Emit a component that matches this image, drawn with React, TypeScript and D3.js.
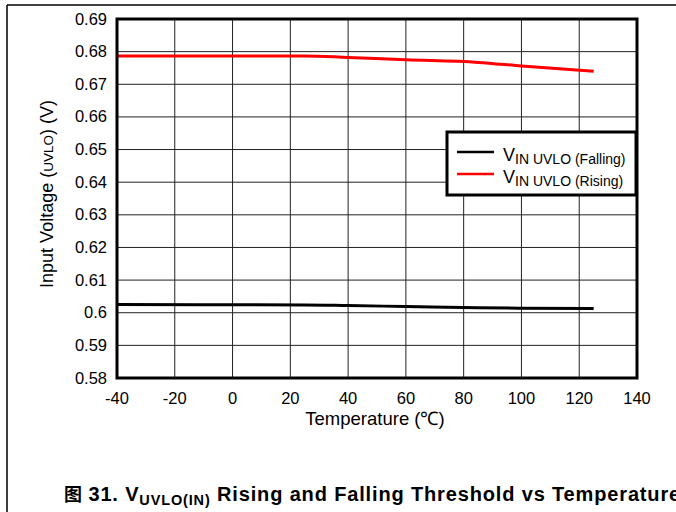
import React from "react";
import * as d3 from "d3";

const temps = [-40, 25, 40, 60, 85, 100, 125];
const falling = [0.6025, 0.6024, 0.6022, 0.6019, 0.6015, 0.6014, 0.6013];
const rising = [0.6787, 0.6787, 0.6782, 0.6775, 0.6767, 0.6756, 0.674];
const xTicks = [-40, -20, 0, 20, 40, 60, 80, 100, 120, 140];
const yTicks = [0.58, 0.59, 0.6, 0.61, 0.62, 0.63, 0.64, 0.65, 0.66, 0.67, 0.68, 0.69];
const seriesNames = ["(Falling)", "(Rising)"];
const seriesColors = ["#000000", "#ff0000"];

export default function App() {
  const W = 676, H = 512;
  const left = 117, right = 637, top = 19, bottom = 378;
  const x = d3.scaleLinear().domain([-40, 140]).range([left, right]);
  const y = d3.scaleLinear().domain([0.58, 0.69]).range([bottom, top]);
  const line = d3.line<number>().x((_, i) => x(temps[i])).y((d) => y(d)).curve(d3.curveMonotoneX);
  const font = "Arial, 'Liberation Sans', sans-serif";
  const series = [falling, rising];
  return (
    <svg width={W} height={H} style={{ position: "absolute", left: 0, top: 0 }} fontFamily={font}>
      <rect x={0} y={0} width={W} height={H} fill="#fff" />
      <line x1={7} y1={5} x2={W} y2={5} stroke="#000" strokeWidth={1.5} />
      <line x1={7} y1={5} x2={7} y2={H} stroke="#000" strokeWidth={1.5} />
      {xTicks.map((t) => (
        <line key={"gx" + t} x1={x(t)} x2={x(t)} y1={top} y2={bottom} stroke="#222" strokeWidth={1} />
      ))}
      {yTicks.map((t) => (
        <line key={"gy" + t} x1={left} x2={right} y1={y(t)} y2={y(t)} stroke="#222" strokeWidth={1} />
      ))}
      {series.map((s, i) => (
        <path key={"s" + i} d={line(s) || ""} fill="none" stroke={seriesColors[i]} strokeWidth={3} />
      ))}
      <rect x={left} y={top} width={right - left} height={bottom - top} fill="none" stroke="#000" strokeWidth={3} />
      {yTicks.map((t) => (
        <text key={"ty" + t} x={107} y={y(t) + 5.5} textAnchor="end" fontSize={16.5} fill="#000">
          {String(+t.toFixed(2))}
        </text>
      ))}
      {xTicks.map((t) => (
        <text key={"tx" + t} x={x(t)} y={404} textAnchor="middle" fontSize={16.5} fill="#000">
          {t}
        </text>
      ))}
      <text x={375} y={425} textAnchor="middle" fontSize={18.5} fill="#000">Temperature (℃)</text>
      <text transform={`translate(53,194) rotate(-90)`} textAnchor="middle" fontSize={18} fill="#000">
        Input Voltage (<tspan fontSize={13.5}>UVLO</tspan>) (V)
      </text>
      <rect x={447} y={132} width={189} height={63} fill="#fff" stroke="#000" strokeWidth={3} />
      {seriesNames.map((n, i) => (
        <g key={"lg" + i}>
          <line x1={457} x2={494} y1={152 + i * 22} y2={152 + i * 22} stroke={seriesColors[i]} strokeWidth={2.5} />
          <text x={503} y={161 + i * 22} fontSize={18} fill="#000">
            V<tspan fontSize={14} dy={3}>IN UVLO </tspan><tspan fontSize={14}>{n}</tspan>
          </text>
        </g>
      ))}
      <text x={64} y={501} fontSize={20} fontWeight="bold" fill="#000">
        <tspan fontFamily="'Noto Sans CJK SC', sans-serif" fontSize={18}>图</tspan>
        <tspan letterSpacing={0.85}> 31. V</tspan><tspan fontSize={14.5} dy={4} letterSpacing={0.85}>UVLO(IN)</tspan><tspan dy={-4} letterSpacing={0.85}> Rising and Falling Threshold vs Temperature</tspan>
      </text>
    </svg>
  );
}
